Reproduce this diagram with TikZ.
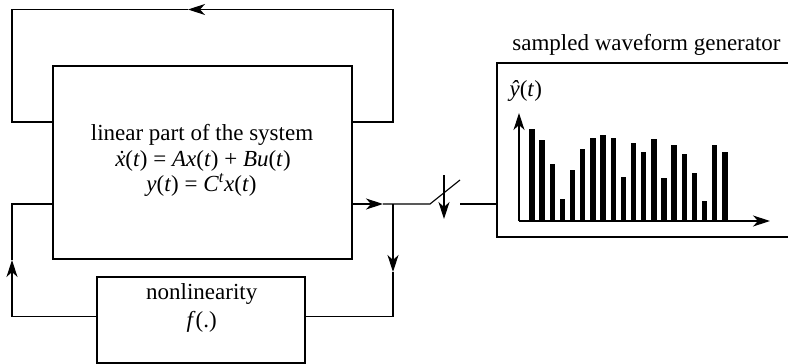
\documentclass[tikz,border=0pt]{standalone}
\usepackage{fontspec}
\setmainfont{Liberation Serif}
\usetikzlibrary{arrows.meta}
\newcommand\itv[1]{\textit{#1}}
\newcommand\xdotted{\textit{x\char"0307}}
\begin{document}
\begin{tikzpicture}[x=1pt, y=-1pt, line width=1.1pt,
  blk/.style={draw, line width=1.1pt, inner sep=0pt},
  tip/.style={-{Stealth[length=17pt, width=11pt, inset=5pt]}},
  txt/.style={font=\fontsize{23}{26}\selectfont, inner sep=0pt, anchor=base}]
\useasboundingbox (0,0) rectangle (788,364);

% blocks
\node[blk, minimum width=299pt, minimum height=193pt] (lin) at (202.5,162.5) {};
\node[txt] (lin1) at (202,140) {linear part of the system};
\node[txt] (lin2) at (203,166) {\xdotted(\itv{t}) = \itv{Ax}(\itv{t}) + \itv{Bu}(\itv{t})};
\node[txt] (lin3) at (201.5,191.5) {\itv{y}(\itv{t}) = \itv{C}\textsuperscript{\itv{t}}\itv{x}(\itv{t})};
\node[blk, minimum width=208pt, minimum height=86pt] (nl) at (201,320) {};
\node[txt] (nl1) at (201.7,299.5) {nonlinearity};
\node[txt] (nl2) at (201.7,327) {\itv{f}(.)};
\node[blk, minimum width=303pt, minimum height=174pt] (wave) at (648.5,150) {};
\node[txt] (title) at (646.5,50) {sampled waveform generator};

% upper feedback loop
\coordinate (tr) at (393,122);
\coordinate (ttr) at (393,9.5);
\coordinate (ttip) at (188,9.5);
\coordinate (ttl) at (12,9.5);
\coordinate (tl) at (12,122);
\draw[tip] (lin.east |- tr) -- (tr) -- (ttr) -- (ttip);
\draw (ttip) -- (ttl) -- (tl) -- (lin.west |- tl);

% output, sampling switch and lower loop
\coordinate (otip) at (383,204);
\coordinate (jn) at (393,204);
\coordinate (sw) at (430,204);
\coordinate (swend) at (460,180);
\draw[tip] (lin.east |- jn) -- (otip);
\draw (otip) -- (jn) -- (sw) -- (swend);
\coordinate (sa) at (444,175);
\coordinate (sb) at (444,219);
\draw[tip] (sa) -- (sb);
\coordinate (wi) at (460,204);
\draw (wi) -- (wave.west |- wi);

\coordinate (dtip) at (393,272);
\coordinate (br) at (393,316.5);
\draw[tip] (jn) -- (dtip);
\draw (dtip) -- (br) -- (nl.east |- br);
\coordinate (bl) at (12,316.5);
\coordinate (utip) at (12,260);
\coordinate (ml) at (12,204);
\draw[tip] (nl.west |- bl) -- (bl) -- (utip);
\draw (utip) -- (ml) -- (lin.west |- ml);

% sampled waveform plot
\node[txt, anchor=base west] (yhat) at (509,96) {\itv{ŷ}(\itv{t})};
\coordinate (org) at (519,221);
\coordinate (ytop) at (519,113);
\coordinate (xend) at (770,221);
\draw[tip] (org) -- (ytop);
\draw[tip] (org) -- (xend);
\foreach \h [count=\i from 0] in {92.3,81.3,57.3,22.3,51.3,72.3,83.3,85.7,83.3,43.7,78.3,69,82.3,43,76.3,67,48.3,20.3,75.7,69}
  \fill (532+10.15*\i-2.7,221) rectangle ++(5.4,-\h);
\end{tikzpicture}
\end{document}
